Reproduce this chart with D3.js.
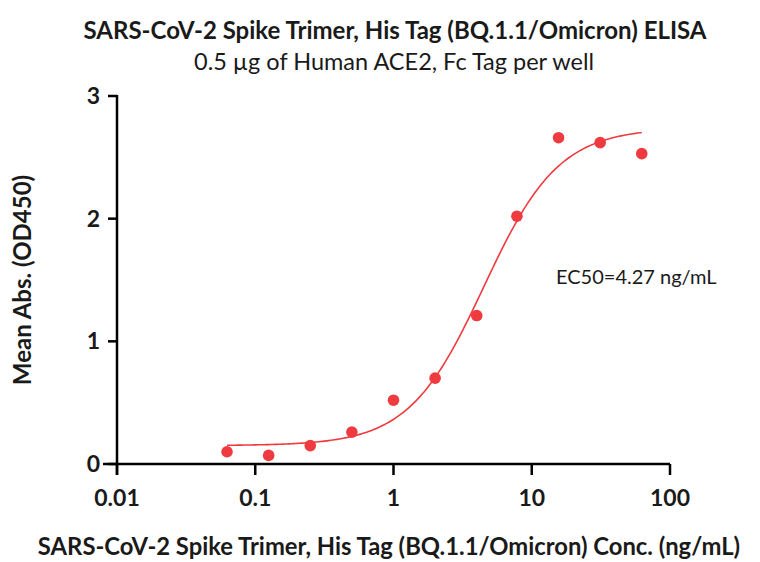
<!DOCTYPE html>
<html>
<head>
<meta charset="utf-8">
<script src="https://cdn.jsdelivr.net/npm/d3@7"></script>
<style>
  body { margin: 0; background: #fff; }
  text { font-family: Lato, "Open Sans", sans-serif; fill: #1a1a1a; }
</style>
</head>
<body>
<svg id="chart" width="760" height="562"></svg>
<script>
// measured data (ng/mL vs OD450)
const conc = [0.0625, 0.125, 0.25, 0.5, 1, 2, 4, 7.8125, 15.625, 31.25, 62.5];
const od450 = [0.10, 0.07, 0.15, 0.26, 0.52, 0.70, 1.21, 2.02, 2.66, 2.62, 2.53];
// 4PL fit parameters: bottom, top, EC50, hill
const fitParams = [0.15, 2.74, 4.5, 1.6];
const xTicks = [0.01, 0.1, 1, 10, 100];
const yTicks = [0, 1, 2, 3];

const red = '#ef3b3f';
const svg = d3.select('#chart');

const x = d3.scaleLog().domain([0.01, 100]).range([117, 670]);
const y = d3.scaleLinear().domain([0, 3]).range([464, 96]);

// titles
svg.append('text')
  .attr('x', 395).attr('y', 39)
  .attr('text-anchor', 'middle')
  .attr('font-size', 24).attr('font-weight', 'bold')
  .text('SARS-CoV-2 Spike Trimer, His Tag (BQ.1.1/Omicron) ELISA');
svg.append('text')
  .attr('x', 394).attr('y', 70)
  .attr('text-anchor', 'middle')
  .attr('font-size', 23.5)
  .text('0.5 µg of Human ACE2, Fc Tag per well');

// x axis
const xAxis = svg.append('g').attr('transform', 'translate(0,464)');
xAxis.append('line')
  .attr('x1', 103).attr('x2', x(100))
  .attr('stroke', '#000').attr('stroke-width', 2.5);
xAxis.selectAll('.xt').data(xTicks).enter().append('line')
  .attr('x1', d => x(d)).attr('x2', d => x(d))
  .attr('y1', 0).attr('y2', 11)
  .attr('stroke', '#000').attr('stroke-width', 2.5);
xAxis.selectAll('.xl').data(xTicks).enter().append('text')
  .attr('x', d => x(d)).attr('y', 42)
  .attr('text-anchor', 'middle')
  .attr('font-size', 23).attr('font-weight', 'bold')
  .text(d => d3.format('~g')(d));

// y axis
const yAxis = svg.append('g').attr('transform', 'translate(117,0)');
yAxis.append('line')
  .attr('y1', y(3) - 1).attr('y2', 475)
  .attr('stroke', '#000').attr('stroke-width', 2.5);
yAxis.selectAll('.yt').data(yTicks).enter().append('line')
  .attr('x1', -9).attr('x2', 0)
  .attr('y1', d => y(d)).attr('y2', d => y(d))
  .attr('stroke', '#000').attr('stroke-width', 2.5);
yAxis.selectAll('.yl').data(yTicks).enter().append('text')
  .attr('x', -17).attr('y', d => y(d))
  .attr('dy', '0.35em')
  .attr('text-anchor', 'end')
  .attr('font-size', 23).attr('font-weight', 'bold')
  .text(d => d);

// axis titles
svg.append('text')
  .attr('x', 389).attr('y', 555)
  .attr('text-anchor', 'middle')
  .attr('font-size', 23.8).attr('font-weight', 'bold')
  .text('SARS-CoV-2 Spike Trimer, His Tag (BQ.1.1/Omicron) Conc. (ng/mL)');
svg.append('text')
  .attr('transform', 'translate(31,280) rotate(-90)')
  .attr('text-anchor', 'middle')
  .attr('font-size', 24).attr('font-weight', 'bold')
  .text('Mean Abs. (OD450)');

// fitted curve
const [fitBottom, fitTop, ec50, hill] = fitParams;
const fit = c => fitBottom + (fitTop - fitBottom) / (1 + Math.pow(ec50 / c, hill));
const lo = Math.log10(conc[0]), hi = Math.log10(conc[conc.length - 1]);
const curveX = d3.range(0, 201).map(i => Math.pow(10, lo + i / 200 * (hi - lo)));
svg.append('path')
  .datum(curveX)
  .attr('fill', 'none')
  .attr('stroke', red)
  .attr('stroke-width', 1.6)
  .attr('d', d3.line().x(d => x(d)).y(d => y(fit(d))));

// points
svg.selectAll('.pt').data(conc).enter().append('circle')
  .attr('cx', d => x(d))
  .attr('cy', (d, i) => y(od450[i]))
  .attr('r', 5.8)
  .attr('fill', red);

svg.append('text')
  .attr('x', 556).attr('y', 284)
  .attr('font-size', 20)
  .text('EC50=4.27 ng/mL');
</script>
</body>
</html>
